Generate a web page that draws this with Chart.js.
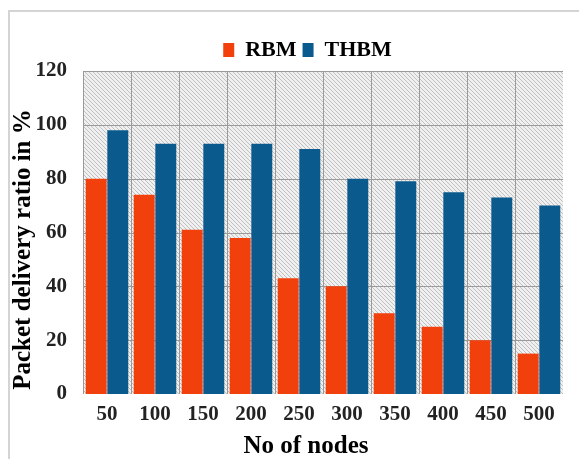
<!DOCTYPE html>
<html><head><meta charset="utf-8">
<script src="https://cdn.jsdelivr.net/npm/chart.js@4"></script>
<style>
html,body{margin:0;padding:0;background:#fff;}
#wrap{position:relative;width:579px;height:459px;}
#frame{position:absolute;left:8px;top:10px;width:600px;height:480px;border:2px solid #d4d4d4;box-sizing:border-box;}
canvas{position:absolute;left:0;top:0;}
</style></head><body>
<div id="wrap"><div id="frame"></div><canvas id="c" width="579" height="459"></canvas></div>
<script>
const categories = ["50","100","150","200","250","300","350","400","450","500"];
const rbm = [80,74,61,58,43,40,30,25,20,15];
const thbm = [98,93,93,93,91,80,79,75,73,70];
const yTicks = [0,20,40,60,80,100,120];
const xTitle = "No of nodes";
const yTitle = "Packet delivery ratio in %";

const hatch = {
  id:'hatch',
  beforeDraw(chart){
    const lg = chart.legend;
    if(lg && !lg._shifted){ lg.left += 26; lg.right += 26; lg._shifted = true; }
  },
  beforeDatasetsDraw(chart){
    const {ctx, chartArea:a} = chart;
    ctx.save();
    ctx.beginPath(); ctx.rect(a.left,a.top,a.right-a.left,a.bottom-a.top); ctx.clip();
    ctx.fillStyle='#f0f0f0'; ctx.fillRect(a.left,a.top,a.right-a.left,a.bottom-a.top);
    ctx.strokeStyle='#c0c0c0'; ctx.lineWidth=1;
    const h=a.bottom-a.top;
    ctx.beginPath();
    for(let x=a.left-h; x<a.right; x+=4){
      ctx.moveTo(x,a.top); ctx.lineTo(x+h,a.bottom);
    }
    ctx.stroke();
    ctx.strokeStyle='#9a9a9a'; ctx.lineWidth=1;
    const ys=chart.scales.y;
    ctx.beginPath();
    yTicks.forEach(v=>{const y=Math.round(ys.getPixelForValue(v))+0.5; ctx.moveTo(a.left,y); ctx.lineTo(a.right,y);});
    const xs=chart.scales.x;
    for(let i=0;i<=categories.length;i++){
      const x=Math.round(xs.getPixelForValue(i-0.5))+0.5; ctx.moveTo(x,a.top); ctx.lineTo(x,a.bottom);
    }
    ctx.stroke();
    ctx.restore();
  }
};

const titles = {
  id:'titles',
  afterDraw(chart){
    const {ctx, chartArea:a} = chart;
    ctx.save();
    ctx.fillStyle='#000';
    ctx.font='bold 25px "Liberation Serif"';
    ctx.textAlign='center'; ctx.textBaseline='middle';
    ctx.fillText(xTitle,(a.left+a.right)/2-17,447);
    ctx.translate(24,(a.top+a.bottom)/2+17);
    ctx.rotate(-Math.PI/2);
    ctx.fillText(yTitle,0,0);
    ctx.restore();
  }
};

new Chart(document.getElementById('c'),{
  type:'bar',
  data:{labels:categories,datasets:[
    {label:'RBM',data:rbm,backgroundColor:'#f2400c',borderWidth:0},
    {label:'THBM',data:thbm,backgroundColor:'#0b5a8e',borderWidth:0}
  ]},
  plugins:[hatch,titles],
  options:{
    responsive:false,animation:false,
    layout:{padding:{left:0,right:16,top:33,bottom:0}},
    datasets:{bar:{categoryPercentage:0.9,barPercentage:0.97}},
    plugins:{
      legend:{position:'top',labels:{boxWidth:11,boxHeight:14,padding:6,color:'#000',font:{family:'Liberation Serif',weight:'bold',size:22}}},
      tooltip:{enabled:false}
    },
    scales:{
      x:{grid:{display:false},border:{display:false},
        afterFit(s){s.height=65;},
        ticks:{color:'#222',font:{family:'Liberation Serif',weight:'bold',size:21},padding:0}},
      y:{min:0,max:120,grid:{display:false},border:{display:false},
        afterFit(s){s.width=83;},
        afterBuildTicks(s){s.ticks=yTicks.map(v=>({value:v}));},
        ticks:{color:'#222',font:{family:'Liberation Serif',weight:'bold',size:21},padding:8}}
    }
  }
});
</script></body></html>
